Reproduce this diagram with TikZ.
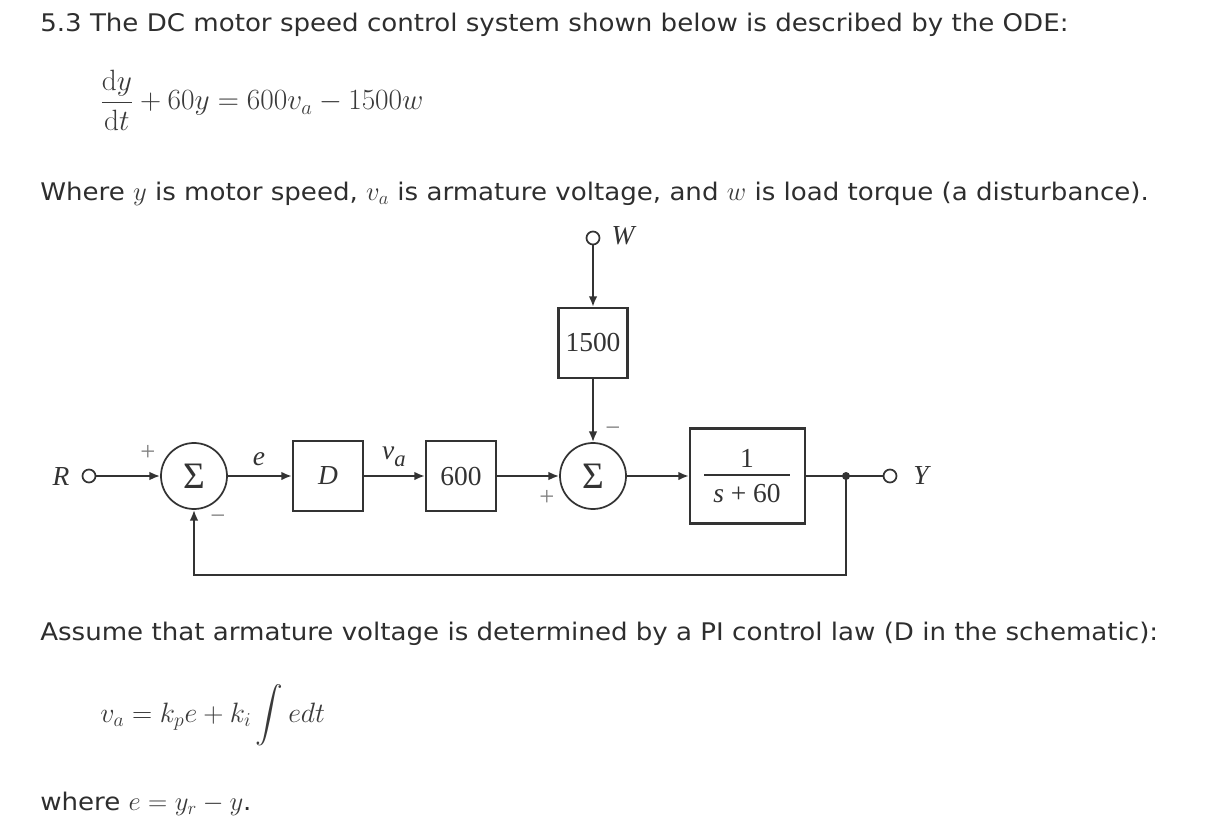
\RequirePackage{fix-cm}
\documentclass[tikz,border=0pt]{standalone}
\usepackage{exscale}
\usepackage[no-math]{fontspec}
\newfontfamily\txt[FakeStretch=1.075]{DejaVu Sans}
\newfontfamily\diag{Liberation Serif}
\usetikzlibrary{arrows.meta}
\definecolor{textc}{HTML}{2E2E2E}
\definecolor{mathc}{HTML}{3A3A3A}
\definecolor{linec}{HTML}{333333}
\newcommand\mth[1]{{\color{mathc}\fontsize{20}{22}\selectfont$#1$}}
\begin{document}
\begin{tikzpicture}[x=0.75pt,y=-0.75pt,
  txtline/.style={anchor=base west, inner sep=0, text=textc, font=\txt\fontsize{18.2}{20}\selectfont},
  sig/.style={draw=linec, line width=1.8pt, -{Latex[length=8pt,width=6.5pt]}},
  wire/.style={draw=linec, line width=1.8pt},
  blk/.style={draw=linec, line width=1.6pt, minimum width=52.5pt, minimum height=52.5pt, inner sep=0, font=\diag\fontsize{20.6}{22}\selectfont, text=linec},
  sumc/.style={circle, draw=linec, line width=1.3pt, minimum size=49.5pt, inner sep=0, font=\diag\fontsize{28}{28}\selectfont, text=linec},
  port/.style={circle, draw=linec, line width=1.3pt, fill=white, minimum size=9.75pt, inner sep=0},
  lbl/.style={inner sep=0, font=\diag\fontsize{20.6}{22}\selectfont\itshape, text=linec},
  num/.style={inner sep=0, font=\diag\fontsize{20.6}{22}\selectfont, text=linec},
  sgn/.style={inner sep=0, font=\diag\fontsize{20}{22}\selectfont, text=gray}
]
\useasboundingbox (0,0) rectangle (1226,830);
\fill[white] (0,0) rectangle (1226,830);

% text
\node[txtline] (t1) at (40,32) {5.3 The DC motor speed control system shown below is described by the ODE:};
\node[anchor=base west, inner sep=0, text=mathc, font=\fontsize{22}{24}\selectfont] (ode) at (100,110) {$\displaystyle\frac{\mathrm{d}y}{\mathrm{d}t}+60y=600v_a-1500w$};
\node[txtline] (t2) at (40,201) {Where \mth{y} is motor speed, \mth{v_a} is armature voltage, and \mth{w} is load torque (a disturbance).};
\node[txtline] (t3) at (40,640) {Assume that armature voltage is determined by a PI control law (D in the schematic):};
\node[anchor=base west, inner sep=0, text=mathc, font=\fontsize{21}{24}\selectfont] (pi) at (100,722) {$\displaystyle v_a=k_pe+k_i\int edt$};
\node[txtline] (t4) at (40,810) {where \mth{e=y_r-y}.};

% diagram
\node[port] (R) at (89,476) {};
\node[lbl] (Rl) at (61,477) {R};
\node[sumc] (s1) at (194,476) {Σ};
\node[blk] (D) at (328,476) {\itshape D};
\node[blk] (K) at (461,476) {600};
\node[sumc] (s2) at (593,476) {Σ};
\node[blk, minimum width=51.75pt] (B) at (593,343) {1500};
\node[port] (W) at (593,238) {};
\node[lbl] (Wl) at (623,236) {W};
\node[blk, minimum width=86.25pt, minimum height=71.25pt] (G) at (747.5,476) {};
\node[num] (Gn) at (747,458) {1};
\node[num] (Gd) at (747,493) {\textit{s} + 60};
\draw[linec, line width=1pt] (704,475) -- (790,475);
\coordinate (j) at (846,476);
\node[port] (Y) at (890,476) {};
\node[lbl] (Yl) at (921,476) {Y};
\coordinate (fb) at (846,575);

\node[lbl] (el) at (259,459) {e};
\node[lbl] (val) at (394,457) {v\raisebox{-5pt}{\fontsize{17}{17}\selectfont a}};
\node[sgn] (p1) at (148,453) {+};
\node[sgn] (m1) at (218,520) {−};
\node[sgn] (p2) at (547,498) {+};
\node[sgn] (m2) at (613,432) {−};

\draw[sig] (R) -- (s1);
\draw[sig] (s1) -- (D);
\draw[sig] (D) -- (K);
\draw[sig] (K) -- (s2);
\draw[sig] (W) -- (B);
\draw[sig] (B) -- (s2);
\draw[sig] (s2) -- (G);
\draw[wire] (G) -- (Y);
\fill[linec] (j) circle (4);
\draw[sig] (j) -- (fb) -| (s1.south);
\end{tikzpicture}
\end{document}
